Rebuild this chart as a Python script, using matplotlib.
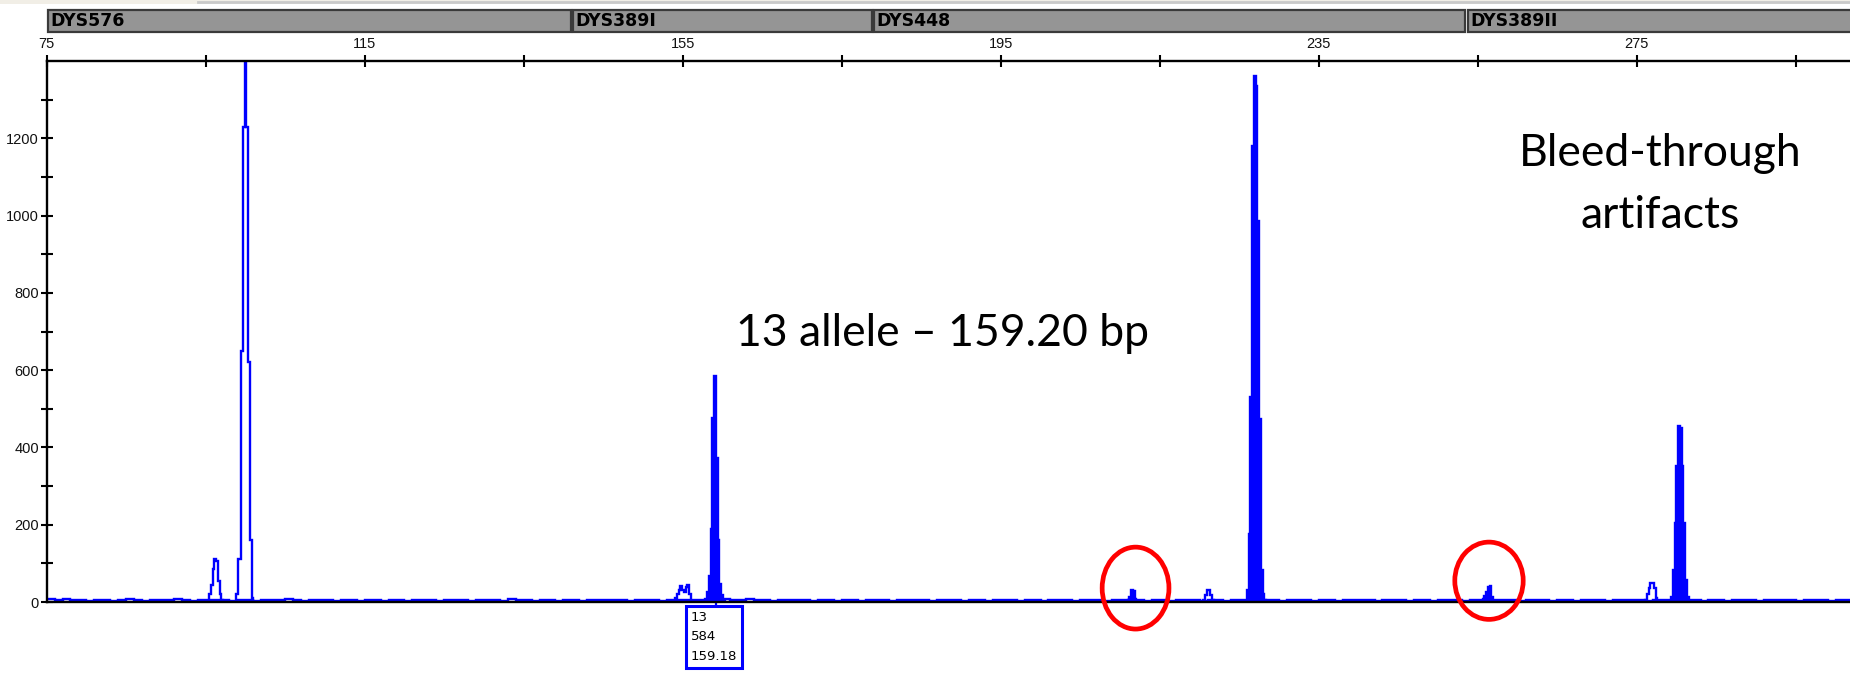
import matplotlib
matplotlib.use("Agg")
import matplotlib.pyplot as plt
import matplotlib.transforms as mtransforms
from matplotlib.patches import Ellipse, Rectangle
from matplotlib.lines import Line2D

W, H, DPI = 1850, 674, 100

# ---------------- data ----------------
x_min, x_max = 75, 301.8
y_max = 1400
x_major = [75, 115, 155, 195, 235, 275]
x_minor = [95, 135, 175, 215, 255, 295]
y_major = [0, 200, 400, 600, 800, 1000, 1200]
y_minor = [100, 300, 500, 700, 900, 1100, 1300]

loci = ["DYS576", "DYS389I", "DYS448", "DYS389II"]
locus_start = [75.15, 141.2, 179.1, 253.7]
locus_end = [140.9, 178.8, 253.4, 303.0]

baseline_start = 75.0
baseline_step = 1.0
baseline = [
    9, 6, 8, 4, 5, 3, 6, 4, 3, 5, 7, 4, 3, 6, 4, 5, 8, 5, 3, 4,
    6, 4, 5, 3, 4, 5, 3, 6, 4, 5, 9, 4, 3, 5, 4, 6, 3, 4, 5, 3,
    4, 6, 3, 5, 4, 3, 5, 4, 6, 3, 4, 5, 4, 3, 6, 4, 5, 3, 8, 4,
    5, 3, 4, 6, 3, 5, 4, 3, 5, 4, 6, 5, 4, 3, 5, 4, 6, 3, 4, 5,
    4, 6, 5, 4, 3, 9, 6, 5, 7, 4, 5, 3, 4, 6, 4, 5, 3, 4, 6, 3,
    5, 4, 3, 6, 4, 5, 3, 4, 5, 6, 4, 3, 5, 4, 6, 3, 5, 4, 3, 5,
    4, 6, 3, 5, 4, 3, 6, 4, 5, 3, 4, 6, 5, 3, 4, 5, 6, 4, 3, 5,
    4, 3, 5, 6, 4, 3, 5, 4, 3, 6, 4, 5, 3, 4, 5, 3, 6, 4, 5, 3,
    4, 5, 3, 6, 4, 5, 4, 3, 5, 4, 6, 3, 5, 4, 3, 5, 6, 4, 3, 5,
    4, 3, 6, 5, 4, 3, 5, 4, 6, 3, 4, 5, 3, 6, 4, 5, 3, 4, 6, 4,
    5, 3, 4, 6, 3, 5, 4, 6, 3, 5, 4, 3, 6, 4, 5, 3, 4, 5, 6, 4,
    3, 5, 4, 6, 3, 4, 5, 3, 6, 4, 5, 4, 3, 5, 4, 6, 3, 5, 4, 3,
]

peak_start = [95.45, 98.79, 154.05, 157.86, 210.95, 220.44, 225.95, 255.6, 276.03, 279.3]
peak_step = 0.22
peak_heights = [
    [20, 45, 85, 110, 105, 55, 20, 5],
    [20, 110, 110, 650, 1230, 1500, 1230, 620, 160, 10],
    [10, 20, 30, 42, 30, 25, 40, 45, 20, 3],
    [8, 26, 68, 190, 475, 584, 372, 160, 47, 17, 6],
    [6, 14, 30, 28, 8],
    [6, 18, 30, 30, 18, 5],
    [30, 175, 530, 1180, 1360, 1335, 985, 473, 83, 20, 5],
    [8, 15, 25, 40, 42, 12],
    [5, 20, 35, 50, 50, 35, 10],
    [13, 82, 204, 351, 455, 450, 351, 204, 58, 13],
]
peak_filled = [False, False, False, True, True, False, True, True, False, True]

label_bp = 159.18
label_lines = ["13", "584", "159.18"]

circle_centers_bp = [211.95, 256.4]
circle_centers_rfu = [36, 55]
circle_widths_bp = [8.4, 8.6]
circle_heights_rfu = [212, 200]

title_allele = "13 allele \u2013 159.20 bp"
note_lines = ["Bleed-through", "artifacts"]

# ---------------- figure ----------------
TRACE = "#0000ff"
fig = plt.figure(figsize=(W / DPI, H / DPI), dpi=DPI)
fig.patch.set_facecolor("white")

def fx(px):
    return px / W

def fy(py):
    return 1 - py / H

# thin window chrome strip at the top
fig.patches.append(Rectangle((0, fy(4)), 1, 4 / H, transform=fig.transFigure,
                             facecolor="#f1eee6", edgecolor="none", zorder=0))
fig.lines.append(Line2D([fx(198), 1], [fy(2), fy(2)], transform=fig.transFigure,
                        color="#c9c9c9", lw=2.0))

ax_left_px, ax_top_px, ax_bot_px = 46.6, 61, 602
ax = fig.add_axes([fx(ax_left_px), fy(ax_bot_px), 1 - fx(ax_left_px), (ax_bot_px - ax_top_px) / H])
ax.set_xlim(x_min, x_max)
ax.set_ylim(0, y_max)

# baseline noise
b_edges = [baseline_start + i * baseline_step for i in range(len(baseline) + 1)]
ax.stairs(baseline, b_edges, baseline=None, color=TRACE, lw=1.7, zorder=3)

# peaks
for st, hs, filled in zip(peak_start, peak_heights, peak_filled):
    edges = [st + i * peak_step for i in range(len(hs) + 1)]
    if filled:
        ax.stairs(hs, edges, baseline=0, fill=True, color=TRACE, lw=0, zorder=4)
    ax.stairs(hs, edges, baseline=0, fill=False, color=TRACE, lw=1.7, zorder=4)

# spines / ticks
for s in ["left", "top", "bottom"]:
    ax.spines[s].set_linewidth(1.7)
    ax.spines[s].set_color("black")
    ax.spines[s].set_zorder(6)
ax.spines["right"].set_visible(False)

ax.set_xticks(x_major)
ax.set_xticks(x_minor, minor=True)
ax.set_xticklabels([str(v) for v in x_major], fontsize=10.5,
                   fontfamily=["Liberation Sans", "DejaVu Sans"])
ax.set_yticks(y_major)
ax.set_yticks(y_minor, minor=True)
ax.set_yticklabels([str(v) for v in y_major], fontsize=10.5,
                   fontfamily=["Liberation Sans", "DejaVu Sans"])
ax.xaxis.set_ticks_position("top")
ax.tick_params(axis="x", which="both", direction="inout", length=8, width=1.5,
               top=True, bottom=False, labeltop=True, labelbottom=False, pad=3.5,
               labelcolor="#111111")
ax.tick_params(axis="y", which="both", direction="inout", length=8, width=1.5,
               left=True, right=False, pad=1.5, labelcolor="#111111")

# locus bar
bar_top_px, bar_bot_px = 9.5, 32
axb = fig.add_axes([fx(ax_left_px), fy(bar_bot_px), 1 - fx(ax_left_px), (bar_bot_px - bar_top_px) / H])
axb.set_xlim(x_min, x_max)
axb.set_ylim(0, 1)
axb.axis("off")
for name, s0, s1 in zip(loci, locus_start, locus_end):
    axb.add_patch(Rectangle((s0, 0.02), s1 - s0, 0.96, facecolor="#959595",
                            edgecolor="#3a3a3a", lw=1.6, clip_on=False))
    axb.text(s0 + 0.3, 0.47, name, ha="left", va="center", fontsize=12.5,
             fontweight="bold", color="black",
             family=["Liberation Sans Narrow", "DejaVu Sans"])

# red circles
for cx, cy, w, h in zip(circle_centers_bp, circle_centers_rfu, circle_widths_bp, circle_heights_rfu):
    ax.add_patch(Ellipse((cx, cy), w, h, fill=False, edgecolor="#ff0000", lw=3.4,
                         clip_on=False, zorder=7))

# allele label box under the called peak
trans = mtransforms.blended_transform_factory(ax.transData, ax.transAxes)
gap = 9 / (ax_bot_px - ax_top_px)
ax.plot([label_bp, label_bp], [0, -gap], color=TRACE, lw=1.6, transform=trans, clip_on=False)
ax.text(label_bp - 0.25, -gap, "\n".join(label_lines), transform=trans, ha="center", va="top",
        fontsize=9.5, family=["DejaVu Sans"], color="black", linespacing=1.65,
        multialignment="left",
        bbox=dict(boxstyle="square,pad=0.35", facecolor="white", edgecolor=TRACE, lw=2.2))

# annotations
fig.text(fx(943), fy(334), title_allele, ha="center", va="center", fontsize=32,
         family=["Lato", "DejaVu Sans"], color="black")
fig.text(fx(1660), fy(153), note_lines[0], ha="center", va="center", fontsize=32,
         family=["Lato", "DejaVu Sans"], color="black")
fig.text(fx(1660), fy(215), note_lines[1], ha="center", va="center", fontsize=32,
         family=["Lato", "DejaVu Sans"], color="black")

fig.savefig("out.png", dpi=DPI)
